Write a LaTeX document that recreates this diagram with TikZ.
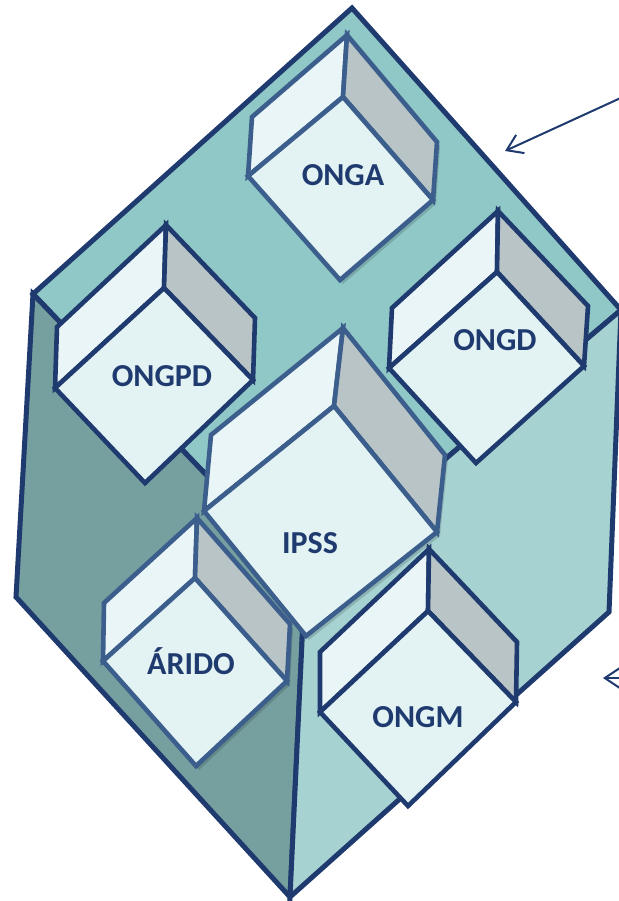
\documentclass[tikz,border=0pt]{standalone}
\usepackage{fontspec}
\setmainfont{Carlito}
\usetikzlibrary{arrows.meta}

\definecolor{azulesc}{RGB}{31,58,110}
\definecolor{azulclaro}{RGB}{59,94,140}
\definecolor{tampa}{RGB}{143,200,199}
\definecolor{ladoesq}{RGB}{117,160,159}
\definecolor{ladodir}{RGB}{166,210,210}
\definecolor{cubotopo}{RGB}{234,245,247}
\definecolor{cubofrente}{RGB}{227,242,243}
\definecolor{cubolado}{RGB}{185,196,198}

\begin{document}
\begin{tikzpicture}[x=1pt,y=-1pt,
  grande/.style={draw=azulesc, line width=5pt, line join=miter},
  escuro/.style={draw=azulesc, line width=4.6pt, line join=miter},
  claro/.style={draw=azulclaro, line width=4.6pt, line join=miter},
  sombra/.style={fill=black, opacity=0.15},
  rotulo/.style={text=azulesc, font=\bfseries\fontsize{32}{32}\selectfont},
  seta/.style={draw=azulesc, line width=2pt, -{Straight Barb[length=15pt,width=20pt]}}]

\useasboundingbox (0,0) rectangle (618,901);

% cubo grande
\filldraw[grande, fill=tampa] (352,8) -- (621,310) -- (305,578) -- (33,294) -- cycle;
\filldraw[grande, fill=ladoesq] (33,294) -- (16,597) -- (290,897) -- (305,578) -- cycle;
\filldraw[grande, fill=ladodir] (305,578) -- (290,897) -- (609,612) -- (621,310) -- cycle;

% ONGA
\fill[sombra] (350,39) -- (255,121) -- (251,180) -- (343,284) -- (436,204) -- (440,146) -- cycle;
\filldraw[claro, fill=cubotopo] (347,35) -- (252,117) -- (248,176) -- (343,97) -- cycle;
\filldraw[claro, fill=cubolado] (347,35) -- (343,97) -- (433,200) -- (437,142) -- cycle;
\filldraw[claro, fill=cubofrente] (343,97) -- (248,176) -- (340,280) -- (433,200) -- cycle;
\node[rotulo] (onga) at (343,175) {ONGA};

% ONGPD
\filldraw[escuro, fill=cubotopo] (166,225) -- (57,327) -- (55,388) -- (164,288) -- cycle;
\filldraw[escuro, fill=cubolado] (166,225) -- (164,288) -- (253,380) -- (255,318) -- cycle;
\filldraw[escuro, fill=cubofrente] (164,288) -- (55,388) -- (145,483) -- (253,380) -- cycle;
\node[rotulo] (ongpd) at (162,376) {ONGPD};

% ONGD
\filldraw[escuro, fill=cubotopo] (498,211) -- (392,308) -- (389,368) -- (497,272) -- cycle;
\filldraw[escuro, fill=cubolado] (498,211) -- (497,272) -- (584,366) -- (588,306) -- cycle;
\filldraw[escuro, fill=cubofrente] (497,272) -- (389,368) -- (476,463) -- (584,366) -- cycle;
\node[rotulo] (ongd) at (495,340) {ONGD};

% ARIDO
\fill[sombra] (200,522) -- (107,607) -- (106,665) -- (199,770) -- (290,685) -- (293,628) -- cycle;
\filldraw[claro, fill=cubotopo] (197,518) -- (104,603) -- (103,661) -- (195,578) -- cycle;
\filldraw[claro, fill=cubolado] (197,518) -- (195,578) -- (287,681) -- (290,624) -- cycle;
\filldraw[claro, fill=cubofrente] (195,578) -- (103,661) -- (196,766) -- (287,681) -- cycle;
\node[rotulo] (arido) at (191,661) {ÁRIDO};

% ONGM
\filldraw[escuro, fill=cubotopo] (429,549) -- (320,652) -- (320,712) -- (428,611) -- cycle;
\filldraw[escuro, fill=cubolado] (429,549) -- (428,611) -- (516,702) -- (517,642) -- cycle;
\filldraw[escuro, fill=cubofrente] (428,611) -- (320,712) -- (408,806) -- (516,702) -- cycle;
\node[rotulo] (ongm) at (418,717) {ONGM};

% IPSS
\fill[sombra] (346,332) -- (214,439) -- (207,515) -- (309,640) -- (440,536) -- (448,459) -- cycle;
\filldraw[claro, fill=cubotopo] (343,328) -- (211,435) -- (204,511) -- (334,406) -- cycle;
\filldraw[claro, fill=cubolado] (343,328) -- (334,406) -- (437,532) -- (445,455) -- cycle;
\filldraw[claro, fill=cubofrente] (334,406) -- (204,511) -- (306,636) -- (437,532) -- cycle;
\node[rotulo] (ipss) at (310,543) {IPSS};

% setas
\coordinate (s1) at (625,96);
\coordinate (t1) at (505,151);
\coordinate (s2) at (625,678);
\coordinate (t2) at (603,678);
\draw[seta] (s1) -- (t1);
\draw[seta] (s2) -- (t2);

\end{tikzpicture}
\end{document}
